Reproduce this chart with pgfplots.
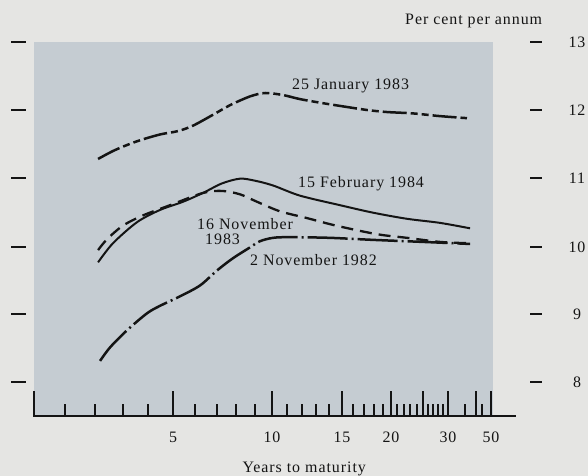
\documentclass[border=0pt]{standalone}
\usepackage{fontspec}
\setmainfont{Liberation Serif}[LetterSpace=6]
\usepackage{pgfplots}
\pgfplotsset{compat=1.18}
\definecolor{pagebg}{RGB}{229,229,227}
\definecolor{plotbg}{RGB}{197,204,210}
\definecolor{ink}{RGB}{20,20,20}
% years to maturity -> horizontal position (the chart's own hand-drawn scale)
\newcommand\yrpx[1]{(34+31*min(#1,1)+30*min(max(#1-1,0),1)+28*min(max(#1-2,0),1)+25*min(max(#1-3,0),1)+25*min(max(#1-4,0),1)+22*min(max(#1-5,0),1)+22*min(max(#1-6,0),1)+19*min(max(#1-7,0),1)+19*min(max(#1-8,0),1)+17*min(max(#1-9,0),1)+15*min(max(#1-10,0),1)+15*min(max(#1-11,0),1)+14*min(max(#1-12,0),1)+13*min(max(#1-13,0),1)+13*min(max(#1-14,0),1)+11*min(max(#1-15,0),1)+11*min(max(#1-16,0),1)+10*min(max(#1-17,0),1)+9*min(max(#1-18,0),1)+8*min(max(#1-19,0),1)+6.4*min(max(#1-20,0),5)+5*min(max(#1-25,0),5)+3.4*min(max(#1-30,0),5)+2.2*min(max(#1-35,0),5)+1.2*min(max(#1-40,0),5)+1.8*max(#1-45,0))}
\newcommand\lblfont{\fontsize{16}{19}\selectfont}
\begin{document}
\begin{tikzpicture}
% background and plot panel (pixel frame: x right, y down, origin top-left)
\begin{scope}[x=1bp, y=-1bp, yshift=416bp]
  \fill[pagebg] (0,0) rectangle (588,476);
  \fill[plotbg] (34,42) rectangle (493,416);
\end{scope}
\begin{axis}[
  at={(0,0)}, anchor=south west,
  width=588bp, height=416bp, scale only axis,
  x coord trafo/.code={\pgfmathparse{\yrpx{#1}}},
  xmin=-1.0967742, xmax=103.8889,
  ymin=7.5, ymax=13.6176,
  enlargelimits=false,
  axis x line=bottom, axis y line=none,
  x axis line style={draw=none},
  ytick=\empty,
  tick align=inside,
  xtick={0,5,10,15,20,25,30,40,50},
  xticklabels={,5,10,15,20,,30,,50},
  minor xtick={1,2,3,4,6,7,8,9,11,12,13,14,16,17,18,19,21,22,23,24,26,27,28,29,35,45},
  major tick length=25bp, minor tick length=12bp,
  tick style={ink, line width=1.9bp},
  /pgf/number format/assume math mode=true,
  xticklabel style={font=\lblfont, text=ink, anchor=center, yshift=-21bp},
  xlabel={Years to maturity},
  xlabel style={at={(rel axis cs:0,0)}, anchor=base west, xshift=239bp, yshift=-56bp, font=\lblfont, text=ink},
  clip=false,
]
% 25 January 1983
\addplot[ink, line width=2.5bp, smooth, dash pattern={on 24bp off 4bp on 7bp off 4bp on 7bp off 4bp}] coordinates {
 (2.11,11.28) (2.71,11.41) (3.56,11.54) (4.48,11.64) (5.23,11.69) (5.91,11.77)
 (6.82,11.93) (7.68,12.07) (8.74,12.20) (9.6,12.25) (10.73,12.22) (11.87,12.16)
 (13.54,12.10) (14.85,12.06) (17.3,12.00) (19.5,11.97) (23.4,11.95) (28.4,11.91) (35.9,11.88)
};
% 15 February 1984
\addplot[ink, line width=2bp, smooth] coordinates {
 (2.11,9.76) (2.64,10.04) (3.56,10.35) (4.48,10.53) (5.45,10.65) (6.36,10.78)
 (7.26,10.92) (8.21,10.99) (9.0,10.96) (10.07,10.89) (11.87,10.74) (14.85,10.60)
 (17.9,10.49) (22.5,10.40) (28.4,10.34) (37.3,10.26)
};
% 16 November 1983
\addplot[ink, line width=2.3bp, smooth, dash pattern={on 12bp off 7bp}] coordinates {
 (2.11,9.94) (2.43,10.10) (3.0,10.30) (3.8,10.45) (4.88,10.60) (6.36,10.78)
 (7.26,10.81) (8.21,10.76) (9.12,10.65) (10.53,10.51) (12.36,10.41) (14.31,10.31)
 (17.0,10.21) (19.0,10.16) (22.5,10.12) (28.4,10.06) (37.3,10.04)
};
% 2 November 1982
\addplot[ink, line width=2.5bp, smooth, dash pattern={on 40bp off 4bp on 2bp off 4bp}] coordinates {
 (2.18,8.31) (2.54,8.51) (3.16,8.76) (3.96,9.01) (4.48,9.12) (5.32,9.26)
 (6.23,9.42) (7.0,9.64) (7.84,9.82) (8.74,9.98) (9.29,10.07) (10.07,10.12)
 (11.2,10.13) (14.08,10.12) (17.9,10.09) (25.0,10.06) (37.3,10.03)
};
\end{axis}
\begin{scope}[x=1bp, y=-1bp, yshift=416bp, every node/.style={font=\lblfont, text=ink, inner sep=0pt}]
  \draw[ink, line width=1.8bp] (33,416) -- (516,416);
  \foreach \py in {42,110,178,247,314,382} {
    \draw[ink, line width=2.8bp] (11,\py) -- (26,\py);
    \draw[ink, line width=2.6bp] (530,\py) -- (542,\py);
  }
  \foreach \py/\v in {42/13,110/12,178/11,247/10,314/9,382/8}
    \node at (577,\py) {\v};
  \node[anchor=base west] at (405,25) {Per cent per annum};
  \node[anchor=base west] at (292,90) {25 January 1983};
  \node[anchor=base west] at (298,188) {15 February 1984};
  \node[anchor=base west] at (197,230) {16 November};
  \node[anchor=base west] at (205,245) {1983};
  \node[anchor=base west] at (250,266) {2 November 1982};
\end{scope}
\pgfresetboundingbox
\path (0,-60bp) rectangle (588bp,416bp);
\end{tikzpicture}
\end{document}
